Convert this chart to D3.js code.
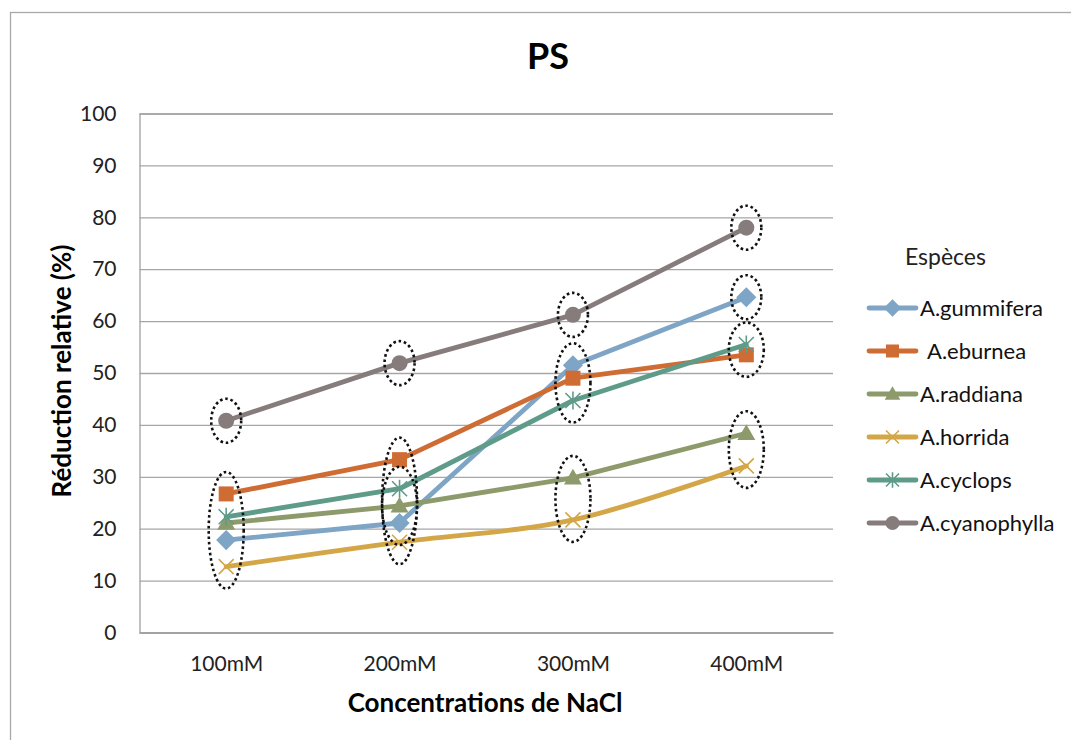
<!DOCTYPE html>
<html><head><meta charset="utf-8">
<script src="https://cdn.jsdelivr.net/npm/d3@7"></script>
<style>html,body{margin:0;padding:0;background:#fff;}svg{display:block;font-family:Lato, "Open Sans", sans-serif;}</style>
</head><body>
<svg id="c" width="1071" height="740"></svg>
<script>
// ---- data ----
const categories = ["100mM", "200mM", "300mM", "400mM"];
const seriesNames = ["A.gummifera", "A.eburnea", "A.raddiana", "A.horrida", "A.cyclops", "A.cyanophylla"];
const gummifera   = [17.8, 21.1, 51.5, 64.6];
const eburnea     = [26.7, 33.3, 49.0, 53.5];
const raddiana    = [21.1, 24.4, 29.8, 38.4];
const horrida     = [12.7, 17.4, 21.7, 32.1];
const cyclops     = [22.3, 27.7, 44.7, 55.5];
const cyanophylla = [40.8, 51.9, 61.2, 78.0];
const yTicks = [0, 10, 20, 30, 40, 50, 60, 70, 80, 90, 100];
// dotted ellipse groups: category index + enclosed series
const circledGroups = [
  [0, ["A.cyanophylla"]],
  [0, ["A.eburnea", "A.cyclops", "A.raddiana", "A.gummifera", "A.horrida"]],
  [1, ["A.cyanophylla"]],
  [1, ["A.eburnea", "A.horrida"]],
  [1, ["A.cyclops", "A.gummifera"]],
  [2, ["A.cyanophylla"]],
  [2, ["A.gummifera", "A.eburnea", "A.cyclops"]],
  [2, ["A.raddiana", "A.horrida"]],
  [3, ["A.cyanophylla"]],
  [3, ["A.gummifera"]],
  [3, ["A.cyclops", "A.eburnea"]],
  [3, ["A.raddiana", "A.horrida"]]
];

const values = [gummifera, eburnea, raddiana, horrida, cyclops, cyanophylla];
const colors = ["#7EA5C5", "#CE6C34", "#8D9A6B", "#D3A748", "#5F9B89", "#877C7C"];
const markers = ["diamond", "square", "triangle", "x", "star", "circle"];
const smooth = [false, false, false, true, false, false];

const svg = d3.select("#c");
const L = 139.5, R = 833, T = 113.5, B = 632.5;
const x = d3.scalePoint().domain(categories).range([L, R]).padding(0.5);
const y = d3.scaleLinear().domain([0, 100]).range([B, T]);

// chart border
svg.append("rect").attr("x", 10.5).attr("y", 12.5).attr("width", 1200).attr("height", 900)
  .attr("fill", "none").attr("stroke", "#A8A8A8").attr("stroke-width", 1.3);

// title
svg.append("text").attr("x", 548).attr("y", 69).attr("text-anchor", "middle")
  .attr("font-size", 36).attr("font-weight", "bold").attr("fill", "#000").text("PS");

// gridlines
const yAxis = d3.axisLeft(y).tickValues(yTicks).tickSize(-(R - L)).tickPadding(23).tickFormat(d3.format("d"));
const gy = svg.append("g").attr("transform", `translate(${L},0)`).call(yAxis);
gy.select(".domain").attr("stroke", "#A0A0A0").attr("stroke-width", 1.3);
gy.selectAll(".tick line").attr("stroke", "#A6A6A6").attr("stroke-width", 1.3);
gy.selectAll(".tick text").attr("font-size", 21).attr("fill", "#222").attr("font-family", "Lato");

const xAxis = d3.axisBottom(x).tickSize(0).tickPadding(24);
const gx = svg.append("g").attr("transform", `translate(0,${B})`).call(xAxis);
gx.select(".domain").attr("stroke", "#A0A0A0").attr("stroke-width", 1.3);
gx.selectAll(".tick text").attr("font-size", 21).attr("fill", "#222").attr("font-family", "Lato");

// axis titles
svg.append("text").attr("transform", `translate(71,371) rotate(-90)`)
  .attr("text-anchor", "middle").attr("font-size", 26).attr("font-weight", "bold").attr("fill", "#000")
  .text("Réduction relative (%)");
svg.append("text").attr("x", 485).attr("y", 712).attr("text-anchor", "middle")
  .attr("font-size", 26).attr("font-weight", "bold").attr("fill", "#000").text("Concentrations de NaCl");

function drawMarker(g, type, color, s) {
  if (type === "diamond") g.append("path").attr("d", d3.symbol(d3.symbolDiamond2, s * s * 1.15)()).attr("fill", color);
  else if (type === "square") g.append("rect").attr("x", -s / 2).attr("y", -s / 2).attr("width", s).attr("height", s).attr("fill", color);
  else if (type === "triangle") g.append("path").attr("d", `M0,${-s * 0.6}L${s * 0.6},${s * 0.45}L${-s * 0.6},${s * 0.45}Z`).attr("fill", color);
  else if (type === "circle") g.append("circle").attr("r", s / 2).attr("fill", color);
  else if (type === "x") {
    const h = s / 2;
    g.append("path").attr("d", `M${-h},${-h}L${h},${h}M${-h},${h}L${h},${-h}`).attr("stroke", color).attr("stroke-width", 1.6).attr("fill", "none");
  } else if (type === "star") {
    const h = s / 2;
    g.append("path").attr("d", `M${-h},${-h}L${h},${h}M${-h},${h}L${h},${-h}M0,${-h * 1.2}L0,${h * 1.2}`).attr("stroke", color).attr("stroke-width", 1.6).attr("fill", "none");
  }
}

// series
values.forEach((vals, i) => {
  const pts = vals.map((v, j) => [x(categories[j]), y(v)]);
  const line = d3.line().curve(smooth[i] ? d3.curveCatmullRom.alpha(0.5) : d3.curveLinear);
  svg.append("path").attr("d", line(pts)).attr("fill", "none").attr("stroke", colors[i])
    .attr("stroke-width", 4.8).attr("stroke-linejoin", "round").attr("stroke-linecap", "round");
  pts.forEach(p => {
    const g = svg.append("g").attr("transform", `translate(${p[0]},${p[1]})`);
    drawMarker(g, markers[i], colors[i], markers[i] === "circle" ? 16 : 15);
  });
});

// dotted ellipses
circledGroups.forEach(([ci, names]) => {
  const ys = names.map(n => y(values[seriesNames.indexOf(n)][ci]));
  const y0 = d3.min(ys), y1 = d3.max(ys);
  const cy = (y0 + y1) / 2, ry = (y1 - y0) / 2 + 22;
  const rx = names.length > 1 ? 17.5 : 15;
  svg.append("ellipse").attr("cx", x(categories[ci])).attr("cy", cy).attr("rx", rx).attr("ry", ry)
    .attr("fill", "none").attr("stroke", "#111").attr("stroke-width", 2.6).attr("stroke-dasharray", "2.6 2.8");
});

// legend
svg.append("text").attr("x", 905).attr("y", 265).attr("font-size", 23).attr("fill", "#222").text("Espèces");
const lg = svg.append("g");
seriesNames.forEach((n, i) => {
  const yy = 308 + i * 43;
  lg.append("line").attr("x1", 869).attr("x2", 916).attr("y1", yy).attr("y2", yy)
    .attr("stroke", colors[i]).attr("stroke-width", 4.8).attr("stroke-linecap", "round");
  const g = lg.append("g").attr("transform", `translate(892.5,${yy})`);
  drawMarker(g, markers[i], colors[i], markers[i] === "circle" ? 14 : 13);
  lg.append("text").attr("x", n === "A.eburnea" ? 927 : 920).attr("y", yy + 8).attr("font-size", 22)
    .attr("fill", "#111").text(n);
});
</script>
</body></html>
